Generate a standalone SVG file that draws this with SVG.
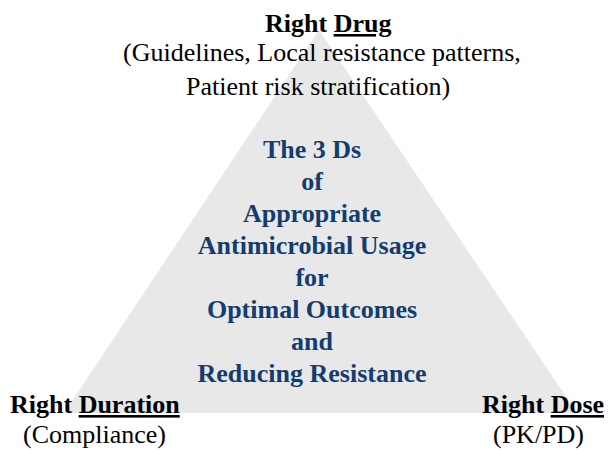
<svg xmlns="http://www.w3.org/2000/svg" width="608" height="450" viewBox="0 0 608 450">
<style>
.lbl{font-family:"Liberation Serif","Times New Roman",serif;font-size:26px;fill:#000}
.b{font-weight:bold}
.u{text-decoration:underline}
.c{font-family:"Liberation Serif","Times New Roman",serif;font-size:26px;font-weight:bold;fill:#123d6e;text-anchor:middle}
</style>
<rect width="608" height="450" fill="#fff"/>
<g id="triangle">
<polygon points="319,30 64,413 577,413" fill="#e8e8e8"/>
</g>
<g id="center">
<text class="c" x="312" y="158">The 3 Ds</text>
<text class="c" x="312" y="190">of</text>
<text class="c" x="312" y="222">Appropriate</text>
<text class="c" x="312" y="254">Antimicrobial Usage</text>
<text class="c" x="312" y="286">for</text>
<text class="c" x="312" y="318">Optimal Outcomes</text>
<text class="c" x="312" y="350">and</text>
<text class="c" x="312" y="382">Reducing Resistance</text>
</g>
<g id="drug">
<text class="lbl b" x="265" y="32">Right <tspan class="u">Drug</tspan></text>
<text class="lbl" x="123" y="61">(Guidelines, Local resistance patterns,</text>
<text class="lbl" x="186" y="95">Patient risk stratification)</text>
</g>
<g id="duration">
<text class="lbl b" x="10" y="413">Right <tspan class="u">Duration</tspan></text>
<text class="lbl" x="23" y="443">(Compliance)</text>
</g>
<g id="dose">
<text class="lbl b" x="482" y="413">Right <tspan class="u">Dose</tspan></text>
<text class="lbl" x="493" y="443">(PK/PD)</text>
</g>
<g id="connectors"/>
</svg>
